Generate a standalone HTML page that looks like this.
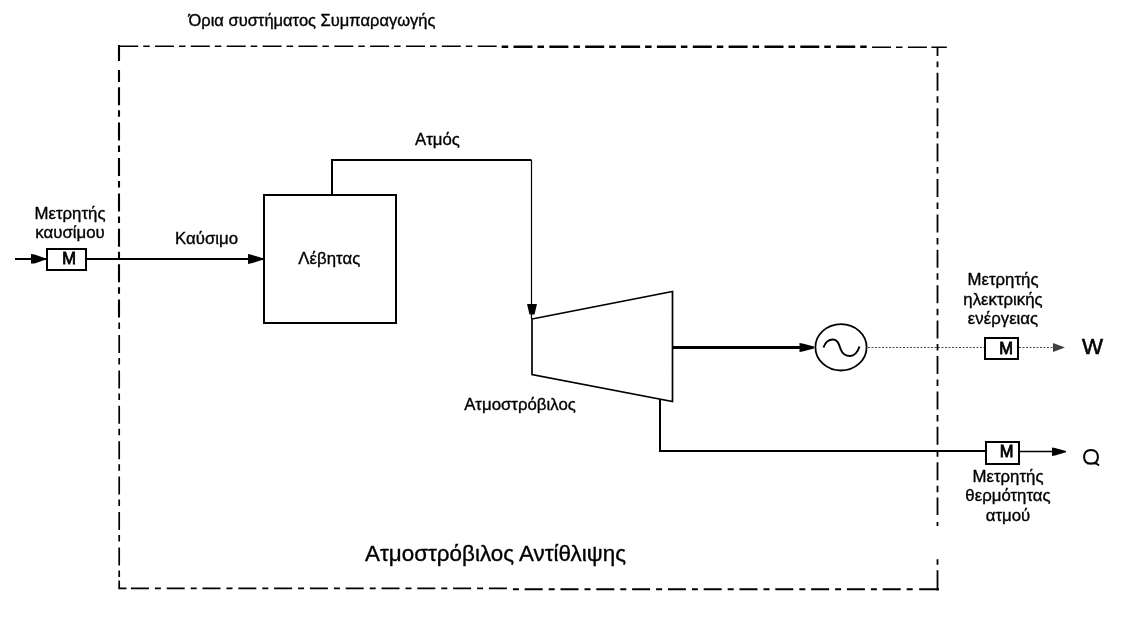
<!DOCTYPE html>
<html><head><meta charset="utf-8">
<style>
html,body{margin:0;padding:0;background:#fff;width:1136px;height:618px;overflow:hidden}
body{filter:grayscale(100%)}
svg{display:block}
text{font-family:"Liberation Sans",sans-serif;fill:#000;stroke:#000;stroke-width:0.35px}
</style></head><body>
<svg width="1136" height="618" viewBox="0 0 1136 618">
<g fill="none" stroke="#000" stroke-linecap="butt">
  <!-- system boundary (dash-dot) -->
<path d="M118.0,46.3H121.0 M119.2,46.3H138.2 M143.2,46.3H149.7 M155.0,46.3H174.0 M179.0,46.3H185.5 M190.8,46.3H209.8 M214.8,46.3H221.3 M226.7,46.3H245.7 M250.7,46.3H257.2 M262.6,46.3H281.6 M286.6,46.3H293.1 M298.4,46.3H317.4 M322.4,46.3H328.9 M334.3,46.3H353.3 M358.3,46.3H364.8 M370.1,46.3H389.1 M394.1,46.3H400.6 M406.0,46.3H425.0 M430.0,46.3H436.5 M441.8,46.3H460.8 M465.8,46.3H472.3 M477.7,46.3H496.7" stroke-width="1.6"/>
<path d="M501.7,46.8H508.2 M513.5,46.8H532.5 M537.5,46.8H544.0 M549.4,46.8H568.4 M573.4,46.8H579.9 M585.2,46.8H604.2 M609.2,46.8H615.7 M621.1,46.8H640.1 M645.1,46.8H651.6 M656.9,46.8H675.9 M680.9,46.8H687.4 M692.8,46.8H711.8 M716.8,46.8H723.3 M728.6,46.8H747.6 M752.6,46.8H759.1 M764.5,46.8H783.5 M788.5,46.8H795.0 M800.3,46.8H819.3 M824.3,46.8H830.8 M836.2,46.8H855.2 M860.2,46.8H866.7" stroke-width="2.4"/>
<path d="M872.0,47.2H891.0 M896.0,47.2H902.5 M907.9,47.2H926.9 M931.4,47.2H946.8" stroke-width="1.5"/>
<path d="M119,45.0V61.0 M119,70.0V82.0 M119,87.2V105.2 M119,110.2V116.7 M119,122.6V140.6 M119,145.6V152.1 M119,158.0V176.0 M119,181.0V187.5 M119,193.4V211.4 M119,216.4V222.9 M119,228.8V246.8 M119,251.8V258.3 M119,264.2V282.2 M119,287.2V293.7 M119,299.6V317.6" stroke-width="2.1"/>
<path d="M119.2,322.6V329.1 M119.2,335.0V353.0 M119.2,358.0V364.5 M119.2,370.4V388.4 M119.2,393.4V399.9 M119.2,405.8V423.8 M119.2,428.8V435.3 M119.2,441.2V459.2 M119.2,464.2V470.7 M119.2,476.6V494.6 M119.2,499.6V506.1 M119.2,512.0V530.0 M119.2,535.0V541.5 M119.2,547.4V565.4 M119.2,570.4V576.9 M119.2,580.5V589.0" stroke-width="1.7"/>
<path d="M118.5,588.4H126.5 M130.9,588.4H148.9 M154.9,588.4H160.9 M166.7,588.4H184.7 M190.7,588.4H196.7 M202.5,588.4H220.5 M226.5,588.4H232.5 M238.3,588.4H256.3 M262.3,588.4H268.3 M274.1,588.4H292.1 M298.1,588.4H304.1 M309.9,588.4H327.9 M333.9,588.4H339.9 M345.7,588.4H363.7 M369.7,588.4H375.7 M381.5,588.4H399.5 M405.5,588.4H411.5 M417.3,588.4H435.3 M441.3,588.4H447.3 M453.1,588.4H471.1 M477.1,588.4H483.1 M488.9,588.4H506.9" stroke-width="1.8"/>
<path d="M512.9,589.2H518.9 M524.7,589.2H542.7 M548.7,589.2H554.7 M560.5,589.2H578.5 M584.5,589.2H590.5 M596.3,589.2H614.3 M620.3,589.2H626.3 M632.1,589.2H650.1 M656.1,589.2H662.1 M667.9,589.2H685.9 M691.9,589.2H697.9 M703.7,589.2H721.7 M727.7,589.2H733.7 M739.5,589.2H757.5 M763.5,589.2H769.5 M775.3,589.2H793.3 M799.3,589.2H805.3 M811.1,589.2H829.1 M835.1,589.2H841.1 M846.9,589.2H864.9 M870.9,589.2H876.9 M882.7,589.2H900.7 M906.7,589.2H912.7 M919.2,589.2H939.0" stroke-width="2.0"/>
<path d="M937.5,47.0V56.0 M937.5,61.5V67.2 M937.5,72.8V90.8 M937.5,96.3V102.8 M937.5,108.2V126.2 M937.5,131.7V138.2 M937.5,143.6V161.6 M937.5,167.1V173.6 M937.5,179.0V197.0 M937.5,202.5V209.0 M937.5,214.4V232.4 M937.5,237.9V244.4 M937.5,249.8V267.8 M937.5,273.3V279.8 M937.5,285.2V303.2 M937.5,308.7V315.2 M937.5,320.6V338.6 M937.5,344.1V350.6 M937.5,356.0V374.0 M937.5,379.5V386.0 M937.5,391.4V409.4 M937.5,414.9V421.4 M937.5,426.8V444.8 M937.5,450.3V456.8 M937.5,462.2V480.2 M937.5,485.7V492.2 M937.5,497.6V515.0 M937.5,522.0V526.0 M937.5,559.3V564.8 M937.5,570.3V590.5" stroke-width="1.8"/>

  <!-- fuel line -->
  <line x1="15" y1="259" x2="46" y2="259" stroke-width="2"/>
  <rect x="47" y="249" width="39" height="21" stroke-width="2"/>
  <line x1="86" y1="259" x2="264" y2="259" stroke-width="2"/>

  <!-- boiler -->
  <rect x="264" y="195" width="132" height="128" stroke-width="2"/>
  <!-- steam pipe -->
  <polyline points="332,195 332,160 531.5,160" stroke-width="2"/>
  <line x1="531.5" y1="160" x2="531.5" y2="319" stroke-width="1.2"/>

  <!-- turbine -->
  <polygon points="532,319 672.5,291.5 672.5,401.5 532,374.5" stroke-width="1.7"/>
  <!-- shaft -->
  <line x1="672" y1="347.5" x2="800" y2="347.5" stroke-width="3"/>
  <!-- generator -->
  <ellipse cx="841" cy="347.3" rx="25.6" ry="23.2" stroke-width="1.8"/>
  <path d="M823.5,347.5 C826,340 830,339.5 833,339.5 C838,339.5 839,345 841,350 C843,355 846,356 850,356 C855,356 858,351 859.5,346.5" stroke-width="2"/>
  <!-- dotted electric line -->
  <line x1="868" y1="347.5" x2="985" y2="347.5" stroke-width="1" stroke-dasharray="2 1.5" stroke-opacity="0.7"/>
  <rect x="985" y="338" width="33" height="21" stroke-width="2"/>
  <line x1="1019" y1="347.5" x2="1053" y2="347.5" stroke-width="1" stroke-dasharray="2 1.5" stroke-opacity="0.7"/>

  <!-- heat line -->
  <polyline points="660,399 660,451 986,451" stroke-width="2"/>
  <rect x="986" y="442" width="33" height="22" stroke-width="2"/>
  <line x1="1018" y1="451.5" x2="1054" y2="451.5" stroke-width="1.6"/>
</g>
<g fill="#000" stroke="none">
  <polygon points="31,254 34.5,254.5 44.5,258 44.5,260 34.5,263.5 31,263.5"/>
  <polygon points="248,254 251.5,254.8 262,258 262,260 251.5,263.3 248,264"/>
  <polygon points="527,304 537,304 534.5,314.5 529.5,314.5"/>
  <polygon points="799.5,343 802.5,343.5 814,346.5 814,348.5 802.5,351.5 799.5,352"/>
  <polygon points="1052,447.5 1055,448 1066,451 1066,452.3 1055,455.5 1052,456"/>
</g>
<g fill="#000" stroke="none" opacity="0.75">
  <polygon points="1053,343 1065,347.5 1053,352" />
</g>
<g>
  <text x="312" y="25.8" font-size="16.5" text-anchor="middle">Όρια συστήματος Συμπαραγωγής</text>
  <text x="70" y="218.8" font-size="16.8" text-anchor="middle">Μετρητής</text>
  <text x="70" y="237.5" font-size="16.8" text-anchor="middle">καυσίμου</text>
  <text x="69" y="263.8" font-size="16.5" text-anchor="middle" style="stroke-width:0.8px">M</text>
  <text x="206.5" y="243.8" font-size="16.8" text-anchor="middle">Καύσιμο</text>
  <text x="437.5" y="144.6" font-size="16.8" text-anchor="middle">Ατμός</text>
  <text x="329.3" y="264.2" font-size="16.8" text-anchor="middle">Λέβητας</text>
  <text x="520" y="410" font-size="16.8" text-anchor="middle">Ατμοστρόβιλος</text>
  <text x="495.5" y="561" font-size="22.4" text-anchor="middle">Ατμοστρόβιλος Αντίθλιψης</text>
  <text x="1003" y="284.8" font-size="16.8" text-anchor="middle">Μετρητής</text>
  <text x="1003" y="304.6" font-size="16.8" text-anchor="middle">ηλεκτρικής</text>
  <text x="1003" y="323.9" font-size="16.8" text-anchor="middle">ενέργειας</text>
  <text x="1006" y="353.8" font-size="16.5" text-anchor="middle" style="stroke-width:0.8px">M</text>
  <text x="1092.4" y="354" font-size="22.3" text-anchor="middle" style="stroke-width:0.6px">W</text>
  <text x="1006.7" y="456.7" font-size="16.5" text-anchor="middle" style="stroke-width:0.8px">M</text>
  
  <text x="1008" y="481.5" font-size="16.8" text-anchor="middle">Μετρητής</text>
  <text x="1008" y="500.8" font-size="16.8" text-anchor="middle">θερμότητας</text>
  <text x="1008" y="521.2" font-size="16.8" text-anchor="middle">ατμού</text>
</g>
<g fill="none" stroke="#000">
  <path d="M1091,449.9 C1095.6,449.9 1097.9,453.2 1097.9,457 C1097.9,461.3 1095.8,463.6 1091,463.6 C1086.2,463.6 1084.1,461.3 1084.1,457 C1084.1,453.2 1086.4,449.9 1091,449.9 Z" stroke-width="2"/>
  <path d="M1087,463.8 H1096" stroke-width="1.2"/>
  <path d="M1095,462.5 L1099,465.5" stroke-width="1.8"/>
</g>
</svg>
</body></html>
